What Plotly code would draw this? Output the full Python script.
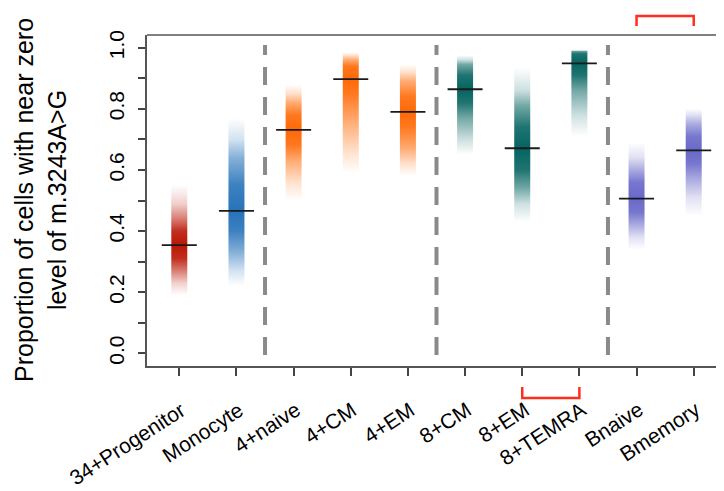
import plotly.graph_objects as go

categories = ["34+Progenitor", "Monocyte", "4+naive", "4+CM", "4+EM",
              "8+CM", "8+EM", "8+TEMRA", "Bnaive", "Bmemory"]
colors = ["#B81200", "#2270B8", "#FF6600", "#FF6600", "#FF6600",
          "#00615E", "#00615E", "#00615E", "#6565C8", "#6565C8"]

medians = [0.354, 0.466, 0.731, 0.897, 0.790, 0.864, 0.671, 0.949, 0.506, 0.664]

# spread of the posterior cloud (faint tails -> dense core)
tail_lo = [0.19, 0.22, 0.50, 0.59, 0.58, 0.65, 0.43, 0.71, 0.34, 0.45]
tail_hi = [0.55, 0.77, 0.88, 0.985, 0.945, 0.975, 0.935, 0.995, 0.69, 0.80]
wide_lo = [0.23, 0.27, 0.56, 0.66, 0.62, 0.70, 0.49, 0.78, 0.38, 0.51]
wide_hi = [0.49, 0.70, 0.85, 0.975, 0.92, 0.96, 0.86, 0.99, 0.64, 0.78]
core_lo = [0.27, 0.33, 0.63, 0.76, 0.67, 0.77, 0.54, 0.86, 0.42, 0.57]
core_hi = [0.44, 0.64, 0.82, 0.96, 0.89, 0.945, 0.81, 0.99, 0.60, 0.75]
dense_lo = [0.31, 0.40, 0.68, 0.85, 0.74, 0.82, 0.60, 0.91, 0.46, 0.62]
dense_hi = [0.40, 0.55, 0.78, 0.94, 0.84, 0.91, 0.74, 0.98, 0.56, 0.71]

group_breaks = [2.5, 5.5, 8.5]
ytick_vals = [0.0, 0.2, 0.4, 0.6, 0.8, 1.0]
ytick_text = ["0.0", "0.2", "0.4", "0.6", "0.8", "1.0"]
bracket_top = (9, 10)
bracket_bottom = (7, 8)

FONT = "Liberation Sans, Arial, sans-serif"
xpos = list(range(1, len(categories) + 1))
HALF_W = 0.14

# page offset of the default <body> margin
OFF = 8
W, H = 724 - OFF, 491 - OFF
ML, MT = 147 - OFF, 35 - OFF
PLOT_W, PLOT_H = W - ML, 331
MB = H - MT - PLOT_H


def px_x(p):  # screen pixel -> paper x
    return (p - OFF - ML) / PLOT_W


def px_y(p):  # screen pixel -> paper y
    return (H - MB - (p - OFF)) / PLOT_H


def rgba(hex_color, a):
    h = hex_color.lstrip("#")
    r, g, b = int(h[0:2], 16), int(h[2:4], 16), int(h[4:6], 16)
    return f"rgba({r},{g},{b},{a})"


fig = go.Figure()

for i, x in enumerate(xpos):
    lo, hi = tail_lo[i], tail_hi[i]
    span = hi - lo

    def f(v):
        return min(max((v - lo) / span, 0.0), 1.0)

    c = colors[i]
    stops = [
        (0.0, 0.0),
        (f(wide_lo[i]), 0.2),
        (f(core_lo[i]), 0.55),
        (f(dense_lo[i]), 0.88),
        (f(medians[i]), 0.98),
        (f(dense_hi[i]), 0.88),
        (f(core_hi[i]), 0.55),
        (f(wide_hi[i]), 0.2),
        (1.0, 0.0),
    ]
    cs = []
    last = -1
    for p, a in stops:
        p = max(p, last)
        cs.append([p, rgba(c, a)])
        last = p
    fig.add_trace(go.Scatter(
        x=[x - HALF_W, x + HALF_W, x + HALF_W, x - HALF_W, x - HALF_W],
        y=[lo, lo, hi, hi, lo],
        mode="lines", line=dict(width=0, color=rgba(c, 0)),
        fill="toself",
        fillgradient=dict(type="vertical", start=lo, stop=hi, colorscale=cs),
        showlegend=False, hoverinfo="skip",
    ))

fig.add_trace(go.Scatter(
    x=xpos, y=medians, mode="markers",
    marker=dict(symbol="line-ew", size=25, line=dict(width=1.8, color="#1a1a1a")),
    showlegend=False,
))

shapes = []
for b in group_breaks:
    shapes.append(dict(type="line", xref="x", yref="y", x0=b, x1=b, y0=-0.006, y1=1.009,
                       line=dict(color="#8a8a8a", width=4, dash="18px,12px")))
# top frame line
shapes.append(dict(type="line", xref="paper", yref="paper", x0=0, x1=1, y0=1, y1=1,
                   line=dict(color="#555555", width=1.5)))
# red brackets
a, b = bracket_top
y_in, y_out = px_y(26), px_y(16)
shapes.append(dict(type="path", xref="x", yref="paper",
                   path=f"M {a},{y_in} L {a},{y_out} L {b},{y_out} L {b},{y_in}",
                   line=dict(color="#FF2E1F", width=2.5)))
a, b = bracket_bottom
y_in, y_out = px_y(387), px_y(398)
shapes.append(dict(type="path", xref="x", yref="paper",
                   path=f"M {a},{y_in} L {a},{y_out} L {b},{y_out} L {b},{y_in}",
                   line=dict(color="#FF2E1F", width=2.5)))

annotations = [dict(
    text="Proportion of cells with near zero<br>level of m.3243A>G",
    xref="paper", yref="paper", x=px_x(40), y=px_y(200),
    xanchor="center", yanchor="middle", textangle=-90, showarrow=False,
    font=dict(size=25, family=FONT, color="black"),
)]
for x, lab in zip(xpos, categories):
    annotations.append(dict(
        text=lab, xref="x", yref="paper", x=x, y=px_y(395),
        xanchor="right", yanchor="top", xshift=13, textangle=-33, showarrow=False,
        font=dict(size=21, family=FONT, color="black"),
    ))

fig.update_layout(
    width=W, height=H,
    margin=dict(l=ML, r=0, t=MT, b=MB, autoexpand=False),
    paper_bgcolor="white", plot_bgcolor="white",
    font=dict(family=FONT, color="black"),
    shapes=shapes,
    annotations=annotations,
    xaxis=dict(
        range=[0.435, 10.53], automargin=False,
        tickmode="array", tickvals=xpos, ticktext=[""] * len(xpos),
        ticks="outside", ticklen=8, tickwidth=1.5, tickcolor="#444444",
        showline=True, linecolor="#555555", linewidth=1.5,
        showgrid=False, zeroline=False,
    ),
    yaxis=dict(
        range=[-0.0416, 1.0416], automargin=False,
        tickmode="array", tickvals=ytick_vals, ticktext=ytick_text,
        tickangle=-90, tickfont=dict(size=21, family=FONT, color="black"),
        ticks="outside", ticklen=7, tickwidth=1.5, tickcolor="#444444",
        minor=dict(dtick=0.1, ticks="outside", ticklen=7, tickwidth=1.5, tickcolor="#444444", showgrid=False),
        showline=True, linecolor="#555555", linewidth=1.5,
        showgrid=False, zeroline=False,
        ticklabelstandoff=6,
    ),
)

fig.write_html("out.html")
